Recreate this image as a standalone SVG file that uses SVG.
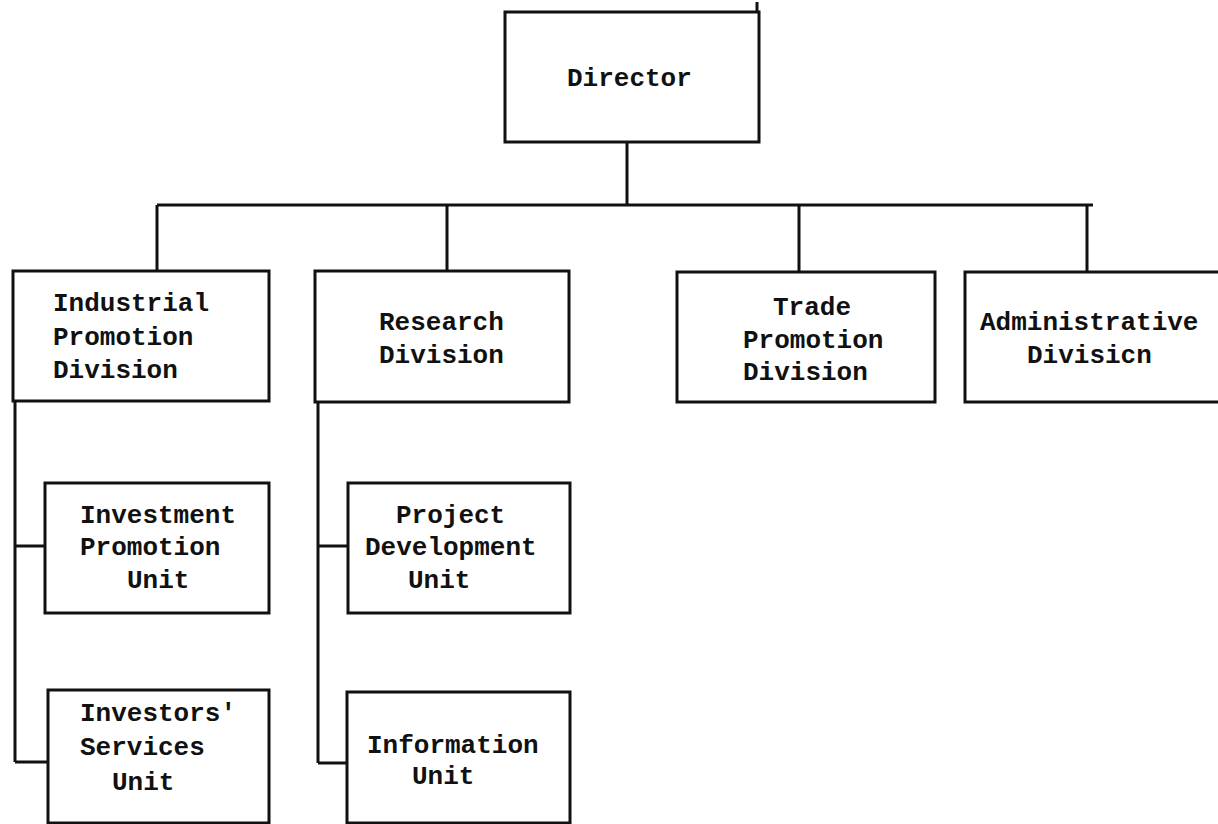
<svg xmlns="http://www.w3.org/2000/svg" width="1218" height="824" viewBox="0 0 1218 824">
<style>
.box{fill:#fff;stroke:#111;stroke-width:3}
.ln{fill:none;stroke:#111;stroke-width:3}
text{font-family:"Liberation Mono","Courier New",monospace;font-size:26px;font-weight:bold;fill:#111}
</style>
<rect width="1218" height="824" fill="#fff"/>
<g id="connectors">
<path class="ln" d="M627 142V205M157 205H1093M157 205V271M447 205V271M799 205V272M1087 205V272"/>
<path class="ln" d="M15 401V762M15 546H45M15 762H48"/>
<path class="ln" d="M318 402V763M318 546H348M318 763H347"/>
</g>
<g id="director">
<rect class="box" x="505" y="12" width="254" height="130"/>
<path class="ln" d="M757 12V2"/>
<text x="567" y="86">Director</text>
</g>
<g id="industrial">
<rect class="box" x="13" y="271" width="256" height="130"/>
<text x="53" y="311">Industrial</text>
<text x="53" y="345">Promotion</text>
<text x="53" y="378">Division</text>
</g>
<g id="research">
<rect class="box" x="315" y="271" width="254" height="131"/>
<text x="379" y="330">Research</text>
<text x="379" y="363">Division</text>
</g>
<g id="trade">
<rect class="box" x="677" y="272" width="258" height="130"/>
<text x="773" y="315">Trade</text>
<text x="743" y="348">Promotion</text>
<text x="743" y="380">Division</text>
</g>
<g id="administrative">
<rect class="box" x="965" y="272" width="260" height="130"/>
<text x="980" y="330">Administrative</text>
<text x="1027" y="363">Divisicn</text>
</g>
<g id="investment">
<rect class="box" x="45" y="483" width="224" height="130"/>
<text x="80" y="523">Investment</text>
<text x="80" y="555">Promotion</text>
<text x="127" y="588">Unit</text>
</g>
<g id="investors">
<rect class="box" x="48" y="690" width="221" height="133"/>
<text x="80" y="721">Investors'</text>
<text x="80" y="755">Services</text>
<text x="112" y="790">Unit</text>
</g>
<g id="project">
<rect class="box" x="348" y="483" width="222" height="130"/>
<text x="396" y="523">Project</text>
<text x="365" y="555">Development</text>
<text x="408" y="588">Unit</text>
</g>
<g id="information">
<rect class="box" x="347" y="692" width="223" height="131"/>
<text x="367" y="753">Information</text>
<text x="412" y="784">Unit</text>
</g>
</svg>
